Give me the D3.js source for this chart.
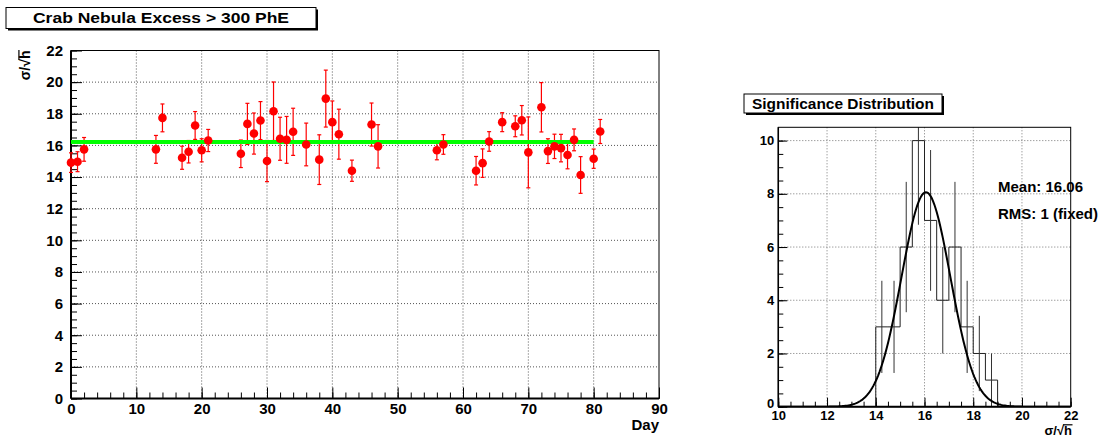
<!DOCTYPE html>
<html>
<head>
<meta charset="utf-8">
<script src="https://cdn.jsdelivr.net/npm/d3@7"></script>
<style>
  html, body { margin: 0; padding: 0; background: #fff; }
  svg { display: block; font-family: "Liberation Sans", Arial, Helvetica, sans-serif; font-weight: bold; }
</style>
</head>
<body>
<svg id="chart" width="1107" height="437"></svg>
<script>
// Nightly Crab Nebula significance (sigma per sqrt(hour)), events above 300 PhE
const days = [0, 1, 2, 13, 14, 17, 18, 19, 20, 21, 26, 27, 28, 29, 30, 31, 32, 33, 34, 36, 38, 39, 40, 41, 43, 46, 47,
  56, 57, 62, 63, 64, 66, 68, 69, 70, 72, 73, 74, 75, 76, 77, 78, 80, 81];
const significance = [14.91, 14.97, 15.75, 15.75, 17.74, 15.22, 15.60, 17.26, 15.69, 16.31, 15.47, 17.36, 16.75, 17.57,
  15.01, 18.16, 16.42, 16.35, 16.86, 16.06, 15.10, 18.96, 17.47, 16.71, 14.40, 17.32, 15.94, 15.69, 16.06, 14.40,
  14.88, 16.25, 17.47, 17.21, 17.59, 15.56, 18.41, 15.64, 15.94, 15.83, 15.39, 16.35, 14.13, 15.16, 16.88];
const sigErrors = [0.62, 0.63, 0.75, 0.88, 0.88, 0.73, 0.71, 0.88, 0.73, 0.70, 0.87, 1.30, 1.30, 1.20, 1.30, 1.85,
  1.36, 1.48, 1.49, 1.35, 1.57, 1.80, 1.34, 1.58, 0.67, 1.36, 1.37, 0.60, 0.62, 0.90, 0.90, 0.62, 0.60, 0.66, 0.93,
  2.24, 1.56, 0.78, 0.77, 0.87, 0.87, 0.69, 1.16, 0.61, 0.76];

// Constant level drawn across the observation period
const levelRange = [0, 80];

// Gaussian fit of the significance distribution
const fitConstant = 8.06;
const fitMean = 16.06;
const fitSigma = 1;

// Axis ticks
const dayTicks = [0, 10, 20, 30, 40, 50, 60, 70, 80, 90];
const sigTicks = [0, 2, 4, 6, 8, 10, 12, 14, 16, 18, 20, 22];
const histXTicks = [10, 12, 14, 16, 18, 20, 22];
const histYTicks = [0, 2, 4, 6, 8, 10];
const histBinWidth = 0.5;

const svg = d3.select("#chart");

// ---------- helpers ----------
function titleBox(x, y, w, h, text, size, len) {
  const g = svg.append("g");
  g.append("rect").attr("x", x + 2).attr("y", y + 2).attr("width", w).attr("height", h).attr("fill", "#000");
  g.append("rect").attr("x", x).attr("y", y).attr("width", w).attr("height", h)
    .attr("fill", "#fff").attr("stroke", "#000").attr("stroke-width", 1);
  g.append("text").attr("x", x + w / 2).attr("y", y + h / 2).attr("dy", "0.36em")
    .attr("text-anchor", "middle").attr("font-size", size)
    .attr("textLength", len).attr("lengthAdjust", "spacingAndGlyphs")
    .text(text);
}

// "sigma / sqrt(h)" label: the radical sign gets a bar drawn over the h
function sigmaLabel(g, size, anchor) {
  const t = g.append("text").attr("font-size", size).attr("text-anchor", anchor).text("σ/√h");
  const node = t.node();
  const rad = node.getExtentOfChar(2);
  const h = node.getExtentOfChar(3);
  const barY = rad.y + rad.height * 0.12;
  g.append("line")
    .attr("x1", rad.x + rad.width - 1).attr("x2", h.x + h.width + 0.5)
    .attr("y1", barY).attr("y2", barY)
    .attr("stroke", "#000").attr("stroke-width", 1.2);
}

function styleAxis(g, size) {
  g.select(".domain").remove();
  g.selectAll(".tick line").attr("stroke", "#000").attr("stroke-width", 1);
  g.selectAll(".tick text").attr("font-size", size).attr("font-weight", "bold")
    .attr("font-family", "Liberation Sans, Arial, sans-serif").attr("fill", "#000");
}

// ================= Left panel: significance vs day =================
const L = { left: 71, right: 659, top: 50.5, bottom: 398.5 };
const xDay = d3.scaleLinear().domain([0, 90]).range([L.left, L.right]);
const ySig = d3.scaleLinear().domain([0, 22]).range([L.bottom, L.top]);

const left = svg.append("g");

// dotted grid
left.append("g").selectAll("line").data(dayTicks.slice(1, -1)).join("line")
  .attr("x1", d => xDay(d)).attr("x2", d => xDay(d)).attr("y1", L.top).attr("y2", L.bottom)
  .attr("stroke", "#555").attr("stroke-width", 1).attr("stroke-dasharray", "1,2");
left.append("g").selectAll("line").data(sigTicks.slice(1, -1)).join("line")
  .attr("x1", L.left).attr("x2", L.right).attr("y1", d => ySig(d)).attr("y2", d => ySig(d))
  .attr("stroke", "#555").attr("stroke-width", 1).attr("stroke-dasharray", "1,2");

// frame
left.append("rect").attr("x", L.left).attr("y", L.top).attr("width", L.right - L.left).attr("height", L.bottom - L.top)
  .attr("fill", "none").attr("stroke", "#000").attr("stroke-width", 1);

// axes (ticks point into the frame)
const gxMinor = left.append("g").attr("transform", `translate(0,${L.bottom})`)
  .call(d3.axisBottom(xDay).tickValues(d3.range(0, 91, 2)).tickSize(-6).tickFormat(""));
styleAxis(gxMinor, 15);
const gx = left.append("g").attr("transform", `translate(0,${L.bottom})`)
  .call(d3.axisBottom(xDay).tickValues(dayTicks).tickSize(-11).tickPadding(5).tickFormat(d3.format("d")));
styleAxis(gx, 15);

const gyMinor = left.append("g").attr("transform", `translate(${L.left},0)`)
  .call(d3.axisLeft(ySig).tickValues(d3.range(0, 22.01, 0.5)).tickSize(-6).tickFormat(""));
styleAxis(gyMinor, 15);
const gy = left.append("g").attr("transform", `translate(${L.left},0)`)
  .call(d3.axisLeft(ySig).tickValues(sigTicks).tickSize(-11).tickPadding(8).tickFormat(d3.format("d")));
styleAxis(gy, 15);

left.append("line").attr("x1", L.left).attr("x2", L.right).attr("y1", L.bottom).attr("y2", L.bottom)
  .attr("stroke", "#000").attr("stroke-width", 2);
left.append("line").attr("x1", L.left).attr("x2", L.left).attr("y1", L.top).attr("y2", L.bottom)
  .attr("stroke", "#000").attr("stroke-width", 2);

// axis titles
left.append("text").attr("x", L.right).attr("y", 430).attr("text-anchor", "end").attr("font-size", 15).text("Day");
sigmaLabel(left.append("g").attr("transform", `translate(30,${L.top}) rotate(-90)`), 14, "end");

// points with error bars
const points = days.map((d, i) => ({ day: d, sig: significance[i], err: sigErrors[i] }));
const errG = left.append("g").attr("stroke", "#f00").attr("stroke-width", 1.2);
errG.selectAll("line.bar").data(points).join("line").attr("class", "bar")
  .attr("x1", d => xDay(d.day)).attr("x2", d => xDay(d.day))
  .attr("y1", d => ySig(d.sig + d.err)).attr("y2", d => ySig(d.sig - d.err));
errG.selectAll("line.capTop").data(points).join("line").attr("class", "capTop")
  .attr("x1", d => xDay(d.day) - 2).attr("x2", d => xDay(d.day) + 2)
  .attr("y1", d => ySig(d.sig + d.err)).attr("y2", d => ySig(d.sig + d.err));
errG.selectAll("line.capBot").data(points).join("line").attr("class", "capBot")
  .attr("x1", d => xDay(d.day) - 2).attr("x2", d => xDay(d.day) + 2)
  .attr("y1", d => ySig(d.sig - d.err)).attr("y2", d => ySig(d.sig - d.err));

// average level
const avgLevel = d3.mean(significance);
left.append("line").attr("x1", xDay(levelRange[0])).attr("x2", xDay(levelRange[1]))
  .attr("y1", ySig(avgLevel)).attr("y2", ySig(avgLevel))
  .attr("stroke", "#00ff00").attr("stroke-width", 4);

left.append("g").selectAll("circle").data(points).join("circle")
  .attr("cx", d => xDay(d.day)).attr("cy", d => ySig(d.sig)).attr("r", 4.3).attr("fill", "#f00");

titleBox(6, 7.5, 310, 21, "Crab Nebula Excess > 300 PhE", 15, 256);

// ================= Right panel: significance distribution =================
const R = { left: 778.3, right: 1070.7, top: 127.3, bottom: 406.7 };
const xH = d3.scaleLinear().domain([10, 22]).range([R.left, R.right]);
const yH = d3.scaleLinear().domain([0, 10.5]).range([R.bottom, R.top]);

const right = svg.append("g");
const clipId = "histClip";
svg.append("defs").append("clipPath").attr("id", clipId).append("rect")
  .attr("x", R.left).attr("y", R.top).attr("width", R.right - R.left).attr("height", R.bottom - R.top);

// dotted grid
right.append("g").selectAll("line").data(histXTicks.slice(1, -1)).join("line")
  .attr("x1", d => xH(d)).attr("x2", d => xH(d)).attr("y1", R.top).attr("y2", R.bottom)
  .attr("stroke", "#777").attr("stroke-width", 1).attr("stroke-dasharray", "1,2");
right.append("g").selectAll("line").data(histYTicks.slice(1)).join("line")
  .attr("x1", R.left).attr("x2", R.right).attr("y1", d => yH(d)).attr("y2", d => yH(d))
  .attr("stroke", "#777").attr("stroke-width", 1).attr("stroke-dasharray", "1,2");

// histogram of the nightly values
const bins = d3.bin().domain([10, 22]).thresholds(d3.range(10 + histBinWidth, 22, histBinWidth))(significance);
const stepPts = [];
bins.forEach(b => { stepPts.push([b.x0, b.length], [b.x1, b.length]); });
const histG = right.append("g").attr("clip-path", `url(#${clipId})`);
histG.append("path")
  .attr("d", d3.line().x(d => xH(d[0])).y(d => yH(d[1])).curve(d3.curveLinear)(stepPts))
  .attr("fill", "none").attr("stroke", "#222").attr("stroke-width", 1);
histG.selectAll("line.err").data(bins.filter(b => b.length > 0)).join("line").attr("class", "err")
  .attr("x1", b => xH((b.x0 + b.x1) / 2)).attr("x2", b => xH((b.x0 + b.x1) / 2))
  .attr("y1", b => yH(b.length + Math.sqrt(b.length))).attr("y2", b => yH(b.length - Math.sqrt(b.length)))
  .attr("stroke", "#333").attr("stroke-width", 1);

// Gaussian fit curve
const curvePts = d3.range(10, 22.001, 0.05).map(x => [x, fitConstant * Math.exp(-0.5 * ((x - fitMean) / fitSigma) ** 2)]);
histG.append("path")
  .attr("d", d3.line().x(d => xH(d[0])).y(d => yH(d[1])).curve(d3.curveLinear)(curvePts))
  .attr("fill", "none").attr("stroke", "#000").attr("stroke-width", 2);

// frame and axes
right.append("rect").attr("x", R.left).attr("y", R.top).attr("width", R.right - R.left).attr("height", R.bottom - R.top)
  .attr("fill", "none").attr("stroke", "#000").attr("stroke-width", 1);

const hxMinor = right.append("g").attr("transform", `translate(0,${R.bottom})`)
  .call(d3.axisBottom(xH).tickValues(d3.range(10, 22.01, 0.5)).tickSize(-5).tickFormat(""));
styleAxis(hxMinor, 13);
const hx = right.append("g").attr("transform", `translate(0,${R.bottom})`)
  .call(d3.axisBottom(xH).tickValues(histXTicks).tickSize(-9).tickPadding(4).tickFormat(d3.format("d")));
styleAxis(hx, 13);
const hyMinor = right.append("g").attr("transform", `translate(${R.left},0)`)
  .call(d3.axisLeft(yH).tickValues(d3.range(0, 10.01, 0.5)).tickSize(-5).tickFormat(""));
styleAxis(hyMinor, 13);
const hy = right.append("g").attr("transform", `translate(${R.left},0)`)
  .call(d3.axisLeft(yH).tickValues(histYTicks).tickSize(-9).tickPadding(4).tickFormat(d3.format("d")));
styleAxis(hy, 13);
// the y-axis zero sits just above the x-axis labels
hy.selectAll(".tick text").filter(d => d === 0).attr("dy", "0.05em");

right.append("line").attr("x1", R.left).attr("x2", R.right).attr("y1", R.bottom).attr("y2", R.bottom)
  .attr("stroke", "#000").attr("stroke-width", 2);
right.append("line").attr("x1", R.left).attr("x2", R.left).attr("y1", R.top).attr("y2", R.bottom)
  .attr("stroke", "#000").attr("stroke-width", 1.5);

sigmaLabel(right.append("g").attr("transform", "translate(1072,435)"), 13, "end");

// fit results
right.append("text").attr("x", 998).attr("y", 192).attr("font-size", 15).text(`Mean: ${fitMean.toFixed(2)}`);
right.append("text").attr("x", 998).attr("y", 219).attr("font-size", 15).text(`RMS: ${fitSigma} (fixed)`);

titleBox(744, 94, 198, 19, "Significance Distribution", 14, 182);
</script>
</body>
</html>
